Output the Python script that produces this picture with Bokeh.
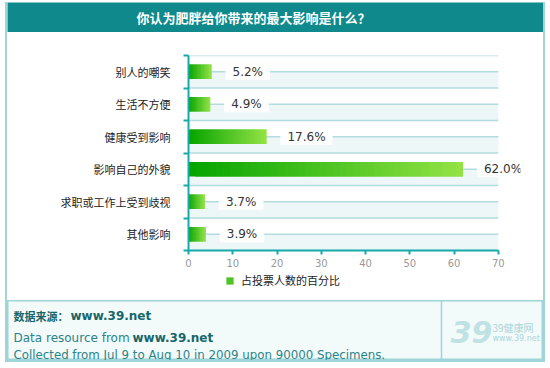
from bokeh.plotting import figure
from bokeh.layouts import column
from bokeh.models import (Range1d, LinearAxis, FixedTicker, ColumnDataSource,
                          Legend, LegendItem)
from bokeh.core.properties import value
from bokeh.embed import file_html
from bokeh.resources import INLINE

# ---------------- data ----------------
title_text = "你认为肥胖给你带来的最大影响是什么？"
categories = ["别人的嘲笑", "生活不方便", "健康受到影响", "影响自己的外貌", "求职或工作上受到歧视", "其他影响"]
percentages = [5.2, 4.9, 17.6, 62.0, 3.7, 3.9]
x_ticks = [0, 10, 20, 30, 40, 50, 60, 70]
series_name = "占投票人数的百分比"
source_label = "数据来源："
source_site = "www.39.net"
resource_text = "Data resource from "
collected_text = "Collected from Jul 9 to Aug 10 in 2009 upon 90000 Specimens."
logo_big = "39"
logo_name = "39健康网"
logo_url = "www.39.net"

# ---------------- styles ----------------
W = 536
TEAL = "#17aaad"
TITLE_BG = "#0f898b"
BORDER = "#9fd4d8"
GRID = "#b3dcdf"
BAND = "#eef7f8"
FOOT_BG = "#f3fafa"
CJK = "Noto Sans CJK SC"
LAT = "DejaVu Sans"
G0 = (6, 164, 0)
G1 = (146, 226, 68)
N = 40


def lerp(t):
    return "#%02x%02x%02x" % tuple(int(round(a + (b - a) * t)) for a, b in zip(G0, G1))


def blank(h, bg):
    f = figure(width=W, height=h, x_range=Range1d(0, W), y_range=Range1d(h, 0),
               x_axis_location=None, y_axis_location=None, toolbar_location=None,
               output_backend="svg", min_border=0, background_fill_color=bg,
               border_fill_color=bg, outline_line_color=None, frame_align=False)
    f.xgrid.visible = False
    f.ygrid.visible = False
    return f


# ---------------- title strip ----------------
TH = 30
tf = blank(TH, TITLE_BG)
tf.text(x=[246], y=[TH / 2], text=[title_text], text_font=value(CJK), text_font_size="13px",
        text_font_style="bold", text_color="white", text_align="center", text_baseline="middle")

# ---------------- main chart ----------------
n = len(categories)
ypos = [n - 1 - i + 0.5 for i in range(n)]   # first category on top
bounds = list(range(n + 1))

p = figure(width=W, height=238,
           x_range=Range1d(x_ticks[0], x_ticks[-1] + 5),
           y_range=Range1d(0, n),
           x_axis_location=None, y_axis_location=None,
           toolbar_location=None, output_backend="svg",
           min_border_left=181, min_border_right=23, min_border_top=23, min_border_bottom=20,
           background_fill_color="white", border_fill_color="white", outline_line_color=None,
           frame_align=False)
p.xgrid.visible = False
p.ygrid.visible = False

# bands & grid lines
p.hbar(y=[k + 0.25 for k in range(n)], height=0.5, left=x_ticks[0], right=x_ticks[-1],
       fill_color=BAND, line_color=None, level="underlay")
ys = [k * 0.5 for k in range(2 * n + 1)]
p.segment(x0=[x_ticks[0]] * len(ys), x1=[x_ticks[-1]] * len(ys), y0=ys, y1=ys,
          line_color=GRID, line_width=1.5, level="underlay")

bars = dict(y=[], left=[], right=[], color=[])
for yc, v in zip(ypos, percentages):
    for j in range(N):
        bars["y"].append(yc)
        bars["left"].append(v * j / N)
        bars["right"].append(v * min(j + 2, N) / N)
        bars["color"].append(lerp(j / (N - 1)))
p.hbar(y="y", left="left", right="right", height=0.45, source=ColumnDataSource(bars),
       fill_color="color", line_color=None)

lbl_src = ColumnDataSource(dict(y=ypos, v=percentages,
                                lbl=["%.1f%%" % v for v in percentages]))
p.text(x="v", y="y", text="lbl", source=lbl_src, x_offset=14,
       text_baseline="middle", text_align="left", text_font=value(LAT),
       text_font_size="12px", text_color="#333333",
       background_fill_color="white", padding=(7, 1))

xaxis = LinearAxis(ticker=FixedTicker(ticks=x_ticks), bounds=(x_ticks[0], x_ticks[-1]),
                   axis_line_color=TEAL, axis_line_width=2,
                   major_tick_line_color=TEAL, major_tick_line_width=2,
                   major_tick_in=0, major_tick_out=4, minor_tick_line_color=None,
                   major_label_text_color="#999999", major_label_text_font=LAT,
                   major_label_text_font_size="10px", major_label_standoff=4)
p.add_layout(xaxis, "below")

yaxis = LinearAxis(ticker=FixedTicker(ticks=ypos, minor_ticks=bounds),
                   major_label_overrides={yc: c for yc, c in zip(ypos, categories)},
                   axis_line_color=TEAL, axis_line_width=2,
                   major_tick_line_color=None, major_tick_in=0, major_tick_out=0,
                   minor_tick_line_color=TEAL, minor_tick_line_width=2,
                   minor_tick_in=0, minor_tick_out=5,
                   major_label_standoff=13,
                   major_label_text_font=CJK, major_label_text_font_size="11px",
                   major_label_text_color="#222222")
p.add_layout(yaxis, "left")

# ---------------- legend strip ----------------
LH = 30
lf = blank(LH, "white")
# one swatch sample kept outside the visible strip; only its legend glyph shows
swatch = lf.rect(x=[-50], y=[-50], width=9, height=9, fill_color=lerp(0.5), line_color=None)
legend = Legend(items=[LegendItem(label=series_name, renderers=[swatch])],
                location=(218, 12), orientation="horizontal",
                glyph_width=9, glyph_height=9, label_standoff=7, label_height=12,
                padding=0, margin=0, border_line_color=None, background_fill_alpha=0,
                label_text_font=CJK, label_text_font_size="11px", label_text_color="#222222")
lf.add_layout(legend)

# ---------------- footer ----------------
FH = 60
ff = blank(FH, FOOT_BG)
ff.outline_line_color = BORDER
ff.outline_line_width = 2
ff.segment(x0=[434], x1=[434], y0=[0], y1=[FH], line_color=BORDER, line_width=1.5)


def ftext(x, y, t, font, size, color, style="normal", align="left"):
    ff.text(x=[x], y=[y], text=[t], text_font=value(font), text_font_size=size,
            text_font_style=style, text_color=color, text_align=align, text_baseline="middle")


ftext(6, 15, source_label, CJK, "11px", "#17666a", "bold")
ftext(63, 15, source_site, LAT, "12px", "#17666a", "bold")
ftext(6, 37, resource_text, LAT, "12px", "#2a8488")
ftext(125, 37, source_site, LAT, "12px", "#17666a", "bold")
ftext(6, 54, collected_text, LAT, "11.8px", "#2a8488")
ftext(464, 31, logo_big, LAT, "30px", "#bfe2e4", "bold italic", "center")
ftext(485, 27, logo_name, CJK, "10px", "#a9d6da")
ftext(485, 38, logo_url, LAT, "8px", "#a9d6da")

layout = column(tf, p, lf, ff, spacing=0, margin=(2, 0, 0, 5),
                styles={"border-left": "2px solid " + BORDER,
                        "border-right": "2px solid " + BORDER,
                        "border-bottom": "2px solid " + BORDER,
                        "box-sizing": "content-box"})

open("out.html", "w").write(file_html(layout, INLINE))
